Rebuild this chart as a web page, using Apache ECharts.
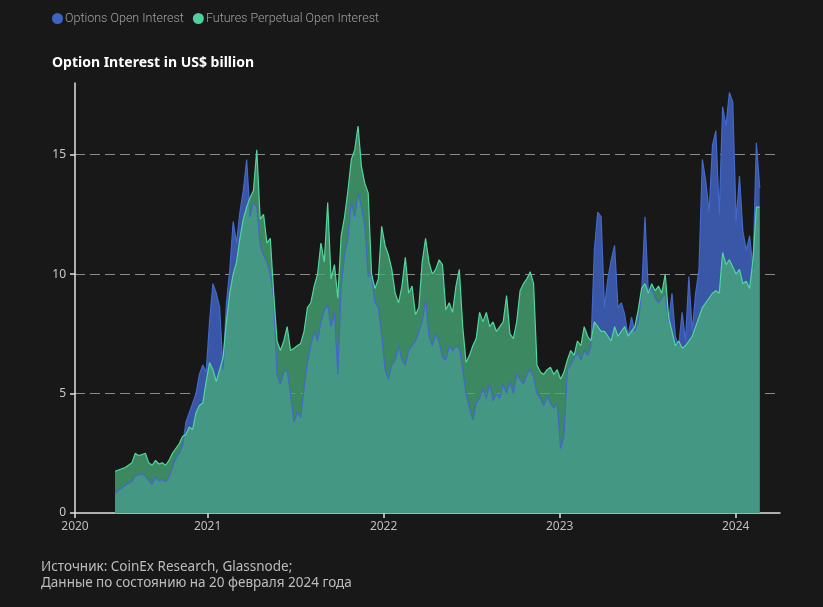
<!DOCTYPE html>
<html>
<head>
<meta charset="utf-8">
<script src="https://cdn.jsdelivr.net/npm/echarts@6/dist/echarts.min.js"></script>
<style>
html,body{margin:0;padding:0;background:#181818;}
#c{width:823px;height:607px;}
</style>
</head>
<body>
<div id="c"></div>
<script>
// Weekly observations starting 2020-06-23
const startDate = '2020-06-23';
const stepDays = 7;
const futures = [
1.75,1.8,1.85,1.9,2.0,2.1,2.5,2.4,2.45,2.5,
2.1,2.0,2.2,2.05,2.1,2.0,2.2,2.5,2.7,2.9,
3.2,3.3,3.6,3.5,4.2,4.5,4.6,5.5,6.3,6.0,
5.5,6.0,6.5,8.0,9.2,10.0,10.5,11.5,12.3,12.8,
13.2,13.5,15.2,12.3,12.5,11.3,11.5,9.2,7.2,6.8,
7.2,7.8,6.8,6.9,7.0,7.1,7.6,8.6,8.8,9.5,
10.0,11.3,10.5,13.0,9.8,10.4,9.0,11.6,12.4,13.5,
14.8,15.2,16.2,14.5,13.8,13.4,10.0,9.4,9.8,12.0,
11.2,10.8,10.2,9.2,8.8,9.5,10.7,9.2,9.5,8.3,
8.6,10.5,11.5,10.5,10.0,10.2,10.6,10.4,8.5,8.8,
8.4,9.5,10.2,7.8,6.3,6.6,7.0,7.3,8.4,8.0,
8.4,7.8,8.0,7.6,7.8,8.0,9.1,7.5,7.3,8.0,
9.3,9.6,9.8,10.1,9.6,6.2,5.9,5.8,6.0,6.1,
5.8,6.0,5.6,5.9,6.4,6.8,6.6,7.2,7.0,7.8,
7.4,7.2,8.0,7.8,7.6,7.6,7.4,7.2,7.8,7.4,
7.6,7.8,7.4,7.6,7.8,8.5,9.4,9.6,9.2,9.6,
9.3,9.5,9.2,10.0,8.2,7.6,7.0,7.2,6.9,7.0,
7.2,7.4,7.8,8.2,8.6,8.8,9.0,9.2,9.3,9.2,
10.9,10.4,10.6,10.3,10.0,10.2,9.6,9.7,9.4,10.6,
12.8,12.8
];
const options = [
0.8,0.95,1.05,1.15,1.25,1.3,1.55,1.6,1.65,1.55,
1.35,1.2,1.5,1.35,1.4,1.3,1.5,1.9,2.3,2.5,
2.8,3.8,4.2,4.6,5.0,5.8,6.2,5.9,8.0,9.6,
9.2,8.6,6.0,8.8,10.2,12.2,11.3,12.6,13.5,14.8,
12.4,13.0,12.8,11.2,10.8,10.5,10.0,9.0,5.8,5.4,
5.9,6.0,5.0,3.8,4.2,4.0,5.2,6.3,7.0,7.6,
7.2,8.0,8.5,8.7,7.8,8.4,5.8,9.5,10.8,11.5,
13.0,12.4,13.4,12.8,12.0,9.9,10.0,8.8,8.6,7.5,
6.0,5.6,6.2,6.4,7.0,6.4,6.2,6.8,7.0,7.2,
7.6,8.0,8.9,7.4,7.0,7.5,7.2,6.5,6.4,7.0,
6.8,7.0,6.9,6.0,5.0,4.4,3.9,4.6,4.8,5.2,
4.8,5.4,4.7,5.0,4.8,5.4,5.0,5.5,5.0,5.8,
5.6,5.4,5.8,6.0,5.7,5.0,4.8,4.5,4.9,4.6,
4.4,4.6,2.7,3.2,6.0,6.2,6.5,6.7,6.4,6.8,
6.6,7.0,11.0,12.6,12.4,8.6,9.8,10.6,11.2,8.6,
8.8,8.3,7.4,8.2,7.6,8.0,9.2,12.4,9.2,9.4,
9.0,8.8,9.0,9.2,8.0,9.2,7.4,7.0,8.4,7.2,
9.9,7.6,9.2,10.2,14.8,13.9,12.6,15.4,16.0,12.5,
17.0,16.2,17.6,17.2,12.2,14.1,11.8,11.0,11.6,10.2,
15.5,13.6
];
const xTickDates = ['2020-04-01','2021-01-01','2022-01-01','2023-01-01','2024-01-01'];
const xEndDate = '2024-04-02';
const yTicks = [0,5,10,15];
const seriesNames = ['Options Open Interest','Futures Perpetual Open Interest'];
const titleText = 'Option Interest in US$ billion';
const sourceLines = ['Источник: CoinEx Research, Glassnode;','Данные по состоянию на 20 февраля 2024 года'];

const toTs = d => Date.UTC(+d.slice(0,4), +d.slice(5,7) - 1, +d.slice(8,10));
const t0 = toTs(startDate);
const dates = futures.map((_, i) => t0 + i * stepDays * 86400000);
const optData = options.map((v, i) => [dates[i], v]);
const futData = futures.map((v, i) => [dates[i], v]);
const xTicks = xTickDates.map(toTs);

const chart = echarts.init(document.getElementById('c'));
const BLUE_LINE = '#4468c8';
const GREEN_LINE = '#52d6a0';
chart.setOption({
  backgroundColor: '#181818',
  animation: false,
  title: {
    text: titleText, left: 47, top: 51,
    textStyle: {color: '#ffffff', fontSize: 14, fontWeight: 'bold', fontFamily: 'Noto Sans'}
  },
  legend: {
    data: seriesNames, left: 47, top: 7, icon: 'circle', itemWidth: 11, itemHeight: 11, itemGap: 9,
    textStyle: {color: '#a0a0a0', fontSize: 12.5, fontFamily: 'Roboto', fontWeight: 300, padding: [0, 0, 0, -3]}
  },
  graphic: [
    {type: 'text', left: 41, top: 560, style: {text: sourceLines[0], fill: '#bdbdbd', font: '13.5px "Noto Sans"'}},
    {type: 'text', left: 41, top: 576, style: {text: sourceLines[1], fill: '#bdbdbd', font: '13.5px "Noto Sans"'}}
  ],
  grid: {left: 75, right: 43, top: 83, bottom: 94},
  xAxis: {
    type: 'value',
    min: xTicks[0],
    max: toTs(xEndDate),
    axisLine: {show: true, lineStyle: {color: '#e0e0e0', width: 1.5}},
    axisTick: {show: true, customValues: xTicks, length: 5, lineStyle: {color: '#e0e0e0', width: 1.5}},
    axisLabel: {customValues: xTicks, color: '#bdbdbd', fontSize: 12, fontFamily: 'Noto Sans', margin: 8,
      formatter: v => String(new Date(v).getUTCFullYear())},
    splitLine: {show: false}
  },
  yAxis: {
    type: 'value', min: 0, max: 18, interval: 5,
    axisLine: {show: true, lineStyle: {color: '#e0e0e0', width: 1.5}},
    axisTick: {show: true, length: 5, lineStyle: {color: '#e0e0e0', width: 1.5}},
    axisLabel: {color: '#c8c8c8', fontSize: 12, fontFamily: 'Noto Sans', margin: 9, showMaxLabel: false,
      formatter: v => (yTicks.indexOf(v) >= 0 ? String(v) : '')},
    splitLine: {show: true, lineStyle: {color: ['rgba(0,0,0,0)','#8a8a8a','#8a8a8a','#8a8a8a','rgba(0,0,0,0)'], type: [10, 5], width: 1}}
  },
  series: [
    {name: seriesNames[0], type: 'line', data: optData, symbol: 'none', z: 1,
      itemStyle: {color: '#3f63c2'}, lineStyle: {width: 0}, areaStyle: {color: '#3a56a6', opacity: 1}},
    {name: seriesNames[1], type: 'line', data: futData, symbol: 'none', z: 2,
      itemStyle: {color: '#4fcf9a'}, lineStyle: {width: 0}, areaStyle: {color: 'rgb(72,170,120)', opacity: 0.77}},
    {name: seriesNames[0], type: 'line', data: optData, symbol: 'none', z: 3,
      itemStyle: {color: '#3f63c2'}, lineStyle: {width: 1.2, color: BLUE_LINE}},
    {name: seriesNames[1], type: 'line', data: futData, symbol: 'none', z: 4,
      itemStyle: {color: '#4fcf9a'}, lineStyle: {width: 1.2, color: GREEN_LINE}}
  ]
});
</script>
</body>
</html>
